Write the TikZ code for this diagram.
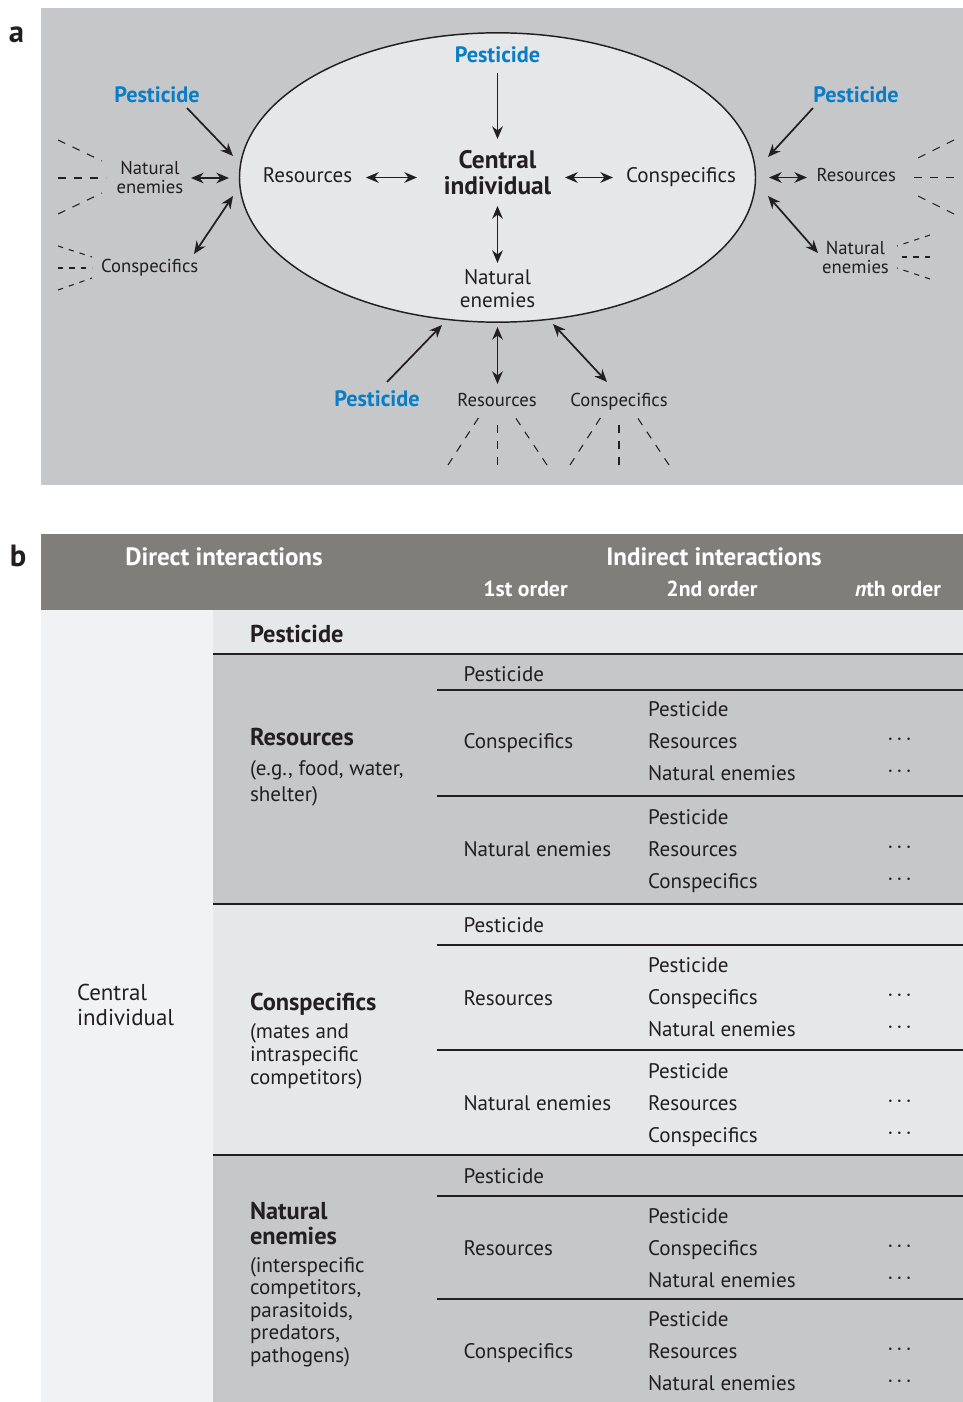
\documentclass[tikz,border=0pt]{standalone}
\usepackage{fontspec}
\setmainfont{PT Sans}
\usetikzlibrary{arrows.meta,shapes.geometric}
\definecolor{ink}{HTML}{231F20}
\definecolor{panelgray}{HTML}{C6C7C9}
\definecolor{ellfill}{HTML}{E6E7E9}
\definecolor{hdr}{HTML}{807E7B}
\definecolor{leftcol}{HTML}{F1F2F4}
\definecolor{lightrow}{HTML}{E6E7E9}
\definecolor{medrow}{HTML}{C6C7C9}
\definecolor{pblue}{HTML}{0A7DC6}
\begin{document}
\begin{tikzpicture}[x=0.75pt,y=-0.75pt,
  txtA/.style={inner sep=0pt, outer sep=0pt, text=ink, anchor=base, font=\fontsize{15.8}{18}\selectfont},
  stxt/.style={txtA, font=\fontsize{14}{16}\selectfont},
  pest/.style={txtA, text=pblue, font=\fontsize{16.7}{19}\selectfont\bfseries},
  cent/.style={txtA, font=\fontsize{19}{21}\selectfont\bfseries},
  tbold/.style={txtA, anchor=base west, font=\fontsize{18.3}{20}\selectfont\bfseries},
  tleft/.style={txtA, anchor=base west},
  cind/.style={txtA, anchor=base west, font=\fontsize{17.2}{20}\selectfont},
  hdrtxt/.style={txtA, text=white, font=\fontsize{18.8}{21}\selectfont\bfseries},
  subhdr/.style={txtA, text=white, font=\fontsize{16.3}{19}\selectfont\bfseries},
  plet/.style={txtA, font=\fontsize{23}{26}\selectfont\bfseries},
  dotsT/.style={txtA},
  arr/.style={draw=ink, line width=1.3pt, -{Stealth[length=9.5pt,width=8pt]}},
  darr/.style={draw=ink, line width=1.3pt, {Stealth[length=9.5pt,width=8pt]}-{Stealth[length=9.5pt,width=8pt]}},
  dsh/.style={draw=ink, line width=0.8pt, dash pattern=on 6pt off 6pt},
  sdsh/.style={draw=ink, line width=0.8pt, dash pattern=on 4pt off 4.5pt},
  hrule/.style={draw=ink, line width=1.6pt}
]
\useasboundingbox (0,0) rectangle (963,1402);

% ================= panel a =================
\fill[panelgray] (41,8) rectangle (963,485);
\node[plet] (la) at (16.5,43) {a};
\node[ellipse, draw=ink, line width=1.1pt, fill=ellfill, minimum width=387pt, minimum height=217pt, inner sep=0pt] (ell) at (497.5,177.5) {};

% inside the ellipse
\node[pest] (pestT) at (497.5,63) {Pesticide};
\node[cent] (cen1) at (497.5,169) {Central};
\node[cent] (cen2) at (497.5,195) {individual};
\node[txtA] (natI1) at (497.5,284.5) {Natural};
\node[txtA] (natI2) at (497.5,307) {enemies};
\node[txtA] (resI) at (307.5,182.5) {Resources};
\node[txtA] (conI) at (681,182.5) {Conspecifics};

\coordinate (t1) at (497.5,73);   \coordinate (t2) at (497.5,139);
\coordinate (r1) at (366,177.5);  \coordinate (r2) at (417,177.5);
\coordinate (c1) at (565,177.5);  \coordinate (c2) at (613,177.5);
\coordinate (n1) at (497.5,206);  \coordinate (n2) at (497.5,263);
\draw[arr] (t1) -- (t2);
\draw[darr] (r1) -- (r2);
\draw[darr] (c1) -- (c2);
\draw[darr] (n1) -- (n2);

% left outside
\node[pest] (pestL) at (157,102.7) {Pesticide};
\node[stxt] (natL1) at (150,174.3) {Natural};
\node[stxt] (natL2) at (150,193.3) {enemies};
\node[stxt] (conL) at (149.7,272.7) {Conspecifics};
\coordinate (pl1) at (187,108);   \coordinate (pl2) at (233,156);
\coordinate (nl1) at (191,178);   \coordinate (nl2) at (229,178);
\coordinate (cl1) at (233,196);   \coordinate (cl2) at (194,254);
\draw[arr] (pl1) -- (pl2);
\draw[darr] (nl1) -- (nl2);
\draw[darr] (cl1) -- (cl2);
\draw[dsh] (58,140) -- (102,161);
\draw[dsh] (58,178) -- (106,178);
\draw[dsh] (58,214) -- (102,193);
\draw[sdsh] (58,246) -- (92,257);
\draw[sdsh] (58,268) -- (92,268);
\draw[sdsh] (58,290) -- (92,278);

% right outside
\node[pest] (pestR) at (856,102.7) {Pesticide};
\node[stxt] (resR) at (856.3,181.7) {Resources};
\node[stxt] (natR1) at (855.5,254) {Natural};
\node[stxt] (natR2) at (855.5,273.3) {enemies};
\coordinate (pr1) at (813,108);   \coordinate (pr2) at (768,157);
\coordinate (rr1) at (769,177.5); \coordinate (rr2) at (807,177.5);
\coordinate (nr1) at (768,196);   \coordinate (nr2) at (818,253);
\draw[arr] (pr1) -- (pr2);
\draw[darr] (rr1) -- (rr2);
\draw[darr] (nr1) -- (nr2);
\draw[dsh] (954,140) -- (912,161);
\draw[dsh] (954,177.5) -- (907,177.5);
\draw[dsh] (954,214) -- (912,193);
\draw[sdsh] (930,235) -- (897,246);
\draw[sdsh] (930,257) -- (897,257);
\draw[sdsh] (930,279) -- (897,268);

% bottom outside
\node[pest] (pestB) at (377,406.7) {Pesticide};
\node[stxt] (resB) at (497,406.7) {Resources};
\node[stxt] (conB) at (619,406.7) {Conspecifics};
\coordinate (pb1) at (387,382);   \coordinate (pb2) at (442,325);
\coordinate (rb1) at (497.5,327); \coordinate (rb2) at (497.5,384);
\coordinate (cb1) at (553,324);   \coordinate (cb2) at (607,382);
\draw[arr] (pb1) -- (pb2);
\draw[darr] (rb1) -- (rb2);
\draw[darr] (cb1) -- (cb2);
\draw[dsh] (448,465) -- (479,417);
\draw[dsh] (497.5,465) -- (497.5,417);
\draw[dsh] (547,465) -- (515,417);
\draw[dsh] (570,465) -- (601,417);
\draw[dsh] (619,465) -- (619,417);
\draw[dsh] (669,465) -- (637,417);

% ================= panel b =================
\node[plet] (lb) at (18,566) {b};
\fill[hdr] (41,534) rectangle (963,610);
\fill[leftcol] (41,610) rectangle (213,1402);
\fill[lightrow] (213,610) rectangle (963,654);
\fill[medrow] (213,654) rectangle (963,904);
\fill[lightrow] (213,904) rectangle (963,1155);
\fill[medrow] (213,1155) rectangle (963,1402);

\node[hdrtxt] (hd1) at (224,565) {Direct interactions};
\node[hdrtxt] (hd2) at (714,565) {Indirect interactions};
\node[subhdr] (hd3) at (525.5,596.5) {1st order};
\node[subhdr] (hd4) at (712,596.5) {2nd order};
\node[subhdr] (hd5) at (898,596.5) {\textit{n}th order};

\draw[hrule] (213,654) -- (963,654);
\draw[hrule] (213,904) -- (963,904);
\draw[hrule] (213,1155) -- (963,1155);
\draw[hrule] (437,690) -- (963,690);
\draw[hrule] (437,796) -- (963,796);
\draw[hrule] (437,945) -- (963,945);
\draw[hrule] (437,1050) -- (963,1050);
\draw[hrule] (437,1196) -- (963,1196);
\draw[hrule] (437,1299) -- (963,1299);

\node[cind] (ci1) at (77,1000.7) {Central};
\node[cind] (ci2) at (77,1025.7) {individual};

\node[tbold] (dp) at (250,642) {Pesticide};

% block 1
\node[tbold] (d1a) at (250,745.7) {Resources};
\node[tleft] (d1b) at (250,775) {(e.g., food, water,};
\node[tleft] (d1c) at (250,801.7) {shelter)};
\node[tleft] (f1a) at (463.5,681) {Pesticide};
\node[tleft] (f1b) at (463.5,748) {Conspecifics};
\node[tleft] (s1a) at (648,716) {Pesticide};
\node[tleft] (s1b) at (648,748) {Resources};
\node[tleft] (s1c) at (648,780) {Natural enemies};
\node[tleft] (f1c) at (463.5,856.5) {Natural enemies};
\node[tleft] (s1d) at (648,824) {Pesticide};
\node[tleft] (s1e) at (648,856) {Resources};
\node[tleft] (s1f) at (648,888) {Conspecifics};

% block 2
\node[tbold] (d2a) at (250,1010) {Conspecifics};
\node[tleft] (d2b) at (250,1038.5) {(mates and};
\node[tleft] (d2c) at (250,1061.5) {intraspecific};
\node[tleft] (d2d) at (250,1084.5) {competitors)};
\node[tleft] (f2a) at (463.5,932) {Pesticide};
\node[tleft] (f2b) at (463.5,1005) {Resources};
\node[tleft] (s2a) at (648,972) {Pesticide};
\node[tleft] (s2b) at (648,1004) {Conspecifics};
\node[tleft] (s2c) at (648,1036) {Natural enemies};
\node[tleft] (f2c) at (463.5,1110) {Natural enemies};
\node[tleft] (s2d) at (648,1078) {Pesticide};
\node[tleft] (s2e) at (648,1110) {Resources};
\node[tleft] (s2f) at (648,1142) {Conspecifics};

% block 3
\node[tbold] (d3a) at (250,1219) {Natural};
\node[tbold] (d3b) at (250,1244) {enemies};
\node[tleft] (d3c) at (250,1272) {(interspecific};
\node[tleft] (d3d) at (250,1294.6) {competitors,};
\node[tleft] (d3e) at (250,1317.2) {parasitoids,};
\node[tleft] (d3f) at (250,1339.8) {predators,};
\node[tleft] (d3g) at (250,1362.4) {pathogens)};
\node[tleft] (f3a) at (463.5,1183) {Pesticide};
\node[tleft] (f3b) at (463.5,1255) {Resources};
\node[tleft] (s3a) at (648,1223) {Pesticide};
\node[tleft] (s3b) at (648,1255) {Conspecifics};
\node[tleft] (s3c) at (648,1287) {Natural enemies};
\node[tleft] (f3c) at (463.5,1358.5) {Conspecifics};
\node[tleft] (s3d) at (648,1326) {Pesticide};
\node[tleft] (s3e) at (648,1358) {Resources};
\node[tleft] (s3f) at (648,1390) {Natural enemies};

% ellipsis dots
\foreach \yy [count=\k] in {745,777,853,885,1001,1033,1107,1139,1252,1284,1355,1387}{
  \node[dotsT] (dots\k) at (899.5,\yy) {·\hspace{2.6pt}·\hspace{2.6pt}·};
}
\end{tikzpicture}
\end{document}
